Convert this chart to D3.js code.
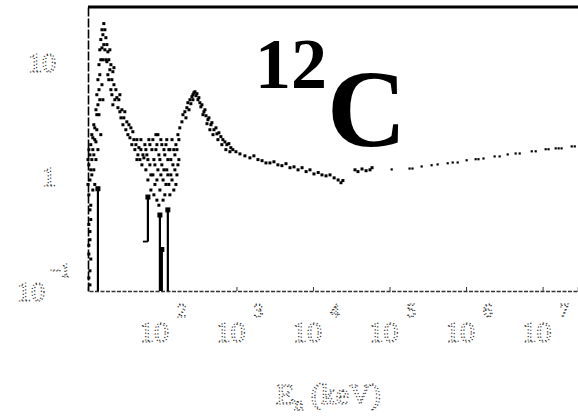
<!DOCTYPE html>
<html>
  <head>
    <style>
      body { margin: 0; background: #fff; }
      svg { display: block; }
    </style>
  </head>
  <body>
    <script src="https://d3js.org/d3.v7.min.js"></script>
    <script>
// energies in keV
const lowEnergy = [11.8, 11.8, 12.2, 11.8, 12.2, 11.8, 12.2, 11.8, 12.2, 12.2, 12.5, 12.9, 12.9, 13.3, 12.5, 12.9, 13.3, 13.7, 14.1,
  13.7, 14.1, 14.6, 14.6, 15.0, 15.0, 15.5, 15.5, 16.0, 16.0, 16.4, 16.4, 16.9, 16.9, 17.5, 17.5, 18.0, 18.5, 18.5, 19.1,
  19.7, 19.7, 20.3, 20.9, 20.9, 21.5, 22.2, 22.2, 22.9, 23.6, 23.6, 24.3, 25.1, 25.8, 26.6, 27.4, 28.3, 29.1, 30.0, 31.0,
  31.9, 32.9, 33.8, 35.9, 37.0, 38.2, 40.6, 41.8, 43.0, 45.7, 47.1, 48.6, 51.6, 53.2, 54.8, 56.5, 58.2, 60.0,
  11.5, 12.2, 11.5, 12.5, 12.5, 12.2, 11.8, 12.5, 11.8, 13.3, 13.7, 14.1, 14.6, 15.0, 15.5, 16.0, 16.4, 16.9, 17.5,
  18.0, 18.0, 19.1, 20.3, 21.5, 22.9, 24.3, 25.1, 30.0, 34.8, 39.4, 44.3, 50.1, 50.1, 56.5];
const lowSigma = [1.71, 1.26, 0.93, 0.69, 0.51, 0.38, 0.28, 0.21, 0.15, 0.113, 1.89, 1.40, 1.03, 0.76, 0.56, 2.31, 1.71, 1.14, 0.85,
  2.82, 2.09, 3.81, 1.40, 5.15, 2.55, 6.97, 1.71, 9.42, 3.45, 12.7, 4.66, 15.6, 2.31, 19.0, 6.30, 10.4, 21.5, 14.1, 19.0,
  16.2, 10.4, 14.1, 12.2, 7.70, 10.4, 12.7, 8.51, 9.42, 6.97, 5.15, 8.18, 6.30, 4.66, 5.70, 4.86, 3.97, 4.66, 3.66, 3.24,
  3.81, 2.82, 3.24, 2.55, 2.99, 2.31, 2.17, 2.65, 1.89, 2.09, 1.71, 1.89, 1.54, 1.78, 1.40, 1.71, 1.26, 1.54,
  1.40, 1.54, 0.85, 1.14, 0.42, 0.33, 0.25, 0.19, 0.13, 2.17, 1.54, 2.65, 2.00, 3.45, 4.21, 5.70, 7.70, 10.4, 13.2,
  17.2, 4.66, 12.7, 10.0, 6.97, 5.70, 4.21, 8.87, 5.15, 3.66, 2.82, 2.45, 2.09, 1.40, 2.09];

const midEnergy = [63.7, 65.6, 67.6, 69.7, 71.8, 74.0, 76.3, 78.6, 81.0, 83.5, 86.1, 88.7, 91.4, 91.4, 94.2, 97.0, 100, 103,
  106, 110, 113, 116, 120, 123, 127, 131, 135, 139, 144, 148, 152, 157, 162, 167, 172, 177,
  61.8, 65.6, 69.7, 74.0, 76.3, 81.0, 83.5, 86.1, 88.7, 91.4, 94.2, 97.0, 100, 103, 106, 110, 113, 116, 120, 123, 127,
  131, 135, 139, 144, 152, 157, 162, 167, 172, 177];
const midSigma = [1.89, 1.14, 1.54, 0.93, 2.09, 1.26, 0.76, 1.71, 1.03, 1.40, 0.85, 2.31, 1.89, 0.62, 1.14, 1.54, 0.76, 2.09,
  1.26, 0.93, 1.71, 0.69, 1.89, 1.14, 1.40, 0.85, 1.71, 1.03, 2.09, 1.26, 0.76, 1.54, 1.89, 1.03, 2.31, 1.40,
  1.45, 1.71, 1.40, 1.89, 1.03, 2.09, 0.69, 1.26, 1.71, 0.93, 2.31, 0.56, 1.40, 1.03, 1.89, 0.62, 1.14, 1.54, 0.85, 2.09, 1.03,
  1.71, 0.69, 1.40, 0.93, 1.71, 1.14, 0.85, 1.71, 1.26, 2.09];

const peakEnergy = [182, 194, 200, 212, 225, 232, 247, 254, 262, 270, 278, 287, 296, 305, 314, 323, 333, 343, 354, 376, 388,
  400, 424, 437, 464, 478, 509, 540, 556, 590, 626, 665, 707, 750, 796, 845, 897, 985, 1111, 1290, 1500, 1690, 1910,
  2160, 2430, 2740, 3090, 3480, 3930, 4440, 5010, 5650, 6380, 7200, 8130, 9140, 10300, 11700, 13100, 14800, 16700,
  18900, 21300, 23200, 24600, 35400, 38700, 43700, 49400, 55600, 59100,
  219, 240, 270, 365, 412, 450, 494, 573, 645, 728, 822];
const peakSigma = [2.65, 2.99, 3.45, 3.66, 3.97, 4.39, 4.66, 4.30, 4.95, 5.15, 5.36, 5.47, 5.05, 5.26, 4.66, 4.86, 4.39, 4.04,
  4.21, 3.66, 3.81, 3.38, 3.12, 3.24, 2.82, 2.94, 2.55, 2.65, 2.35, 2.40, 2.22, 2.09, 2.00, 1.89, 1.93, 1.78, 1.71, 1.64,
  1.57, 1.51, 1.45, 1.51, 1.40, 1.37, 1.31, 1.31, 1.34, 1.26, 1.24, 1.29, 1.19, 1.21, 1.14, 1.19, 1.10, 1.14, 1.05, 1.08,
  1.03, 1.01, 1.03, 0.97, 0.93, 0.88, 0.92, 1.14, 1.10, 1.16, 1.12, 1.14, 1.19,
  3.24, 3.81, 4.66, 3.45, 2.88, 2.55, 2.31, 2.09, 1.89, 1.71, 1.64];

const tailEnergy = [1.08e5, 1.85e5, 2.02e5, 2.66e5, 3.59e5, 4.30e5, 5.82e5, 6.77e5, 7.86e5, 1.03e6, 1.35e6, 1.47e6, 1.71e6,
  2.39e6, 2.78e6, 3.54e6, 4.50e6, 5.08e6, 7.30e6, 8.22e6, 1.11e7, 1.21e7, 1.50e7, 1.64e7, 1.79e7, 2.43e7, 2.66e7];
const tailSigma = [1.14, 1.16, 1.16, 1.21, 1.24, 1.26, 1.29, 1.31, 1.31, 1.37, 1.40, 1.40, 1.42, 1.48, 1.48, 1.54, 1.57, 1.57,
  1.64, 1.64, 1.71, 1.71, 1.74, 1.74, 1.74, 1.81, 1.81];

// points with big error bars
const errEnergy = [15.5, 69.7, 100, 106, 127];
const errTop = [0.78, 0.66, 0.46, 0.23, 0.51];
const errBottom = [0.1, 0.27, 0.1, 0.1, 0.1];

const xTicks = [1e2, 1e3, 1e4, 1e5, 1e6, 1e7];
const xExps = ['2', '3', '4', '5', '6', '7'];
const yTicks = [10, 1, 0.1];
const yBases = ['10', '1', '10'];
const yExps = ['', '', '\u22121'];

const WIDTH = 578
const HEIGHT = 416
const LEFT = 88
const TOP = 7
const BOTTOM = 291

const svg = d3.select('body').append('svg').attr('width', WIDTH).attr('height', HEIGHT);

const x = d3.scaleLog().domain([11.5, 2.9e7]).range([LEFT, WIDTH]);
const y = d3.scaleLog().domain([0.1, 30]).range([BOTTOM, TOP]).clamp(true);

// dotted "scanned" text look
function stipple(sel) {
  sel.attr('fill', 'none')
    .attr('stroke', '#222')
    .attr('stroke-width', 1.1)
    .attr('stroke-dasharray', '1.2 2.2')
    .attr('font-family', 'Liberation Serif, serif');
}

// frame
svg.append('line')
  .attr('x1', LEFT).attr('x2', WIDTH).attr('y1', TOP).attr('y2', TOP)
  .attr('stroke', '#000').attr('stroke-width', 3);

const xAxis = d3.axisBottom(x).tickValues(xTicks).tickSize(-4).tickFormat('');
const gx = svg.append('g').attr('transform', `translate(0,${BOTTOM})`).call(xAxis);
gx.select('.domain').attr('stroke', '#333').attr('stroke-width', 1.5).attr('stroke-dasharray', '4 1.5');
gx.selectAll('.tick line').attr('stroke', '#333');

const yAxis = d3.axisLeft(y).tickValues(yTicks).tickSize(0).tickFormat('');
const gy = svg.append('g').attr('transform', `translate(${LEFT},0)`).call(yAxis);
gy.select('.domain').attr('stroke', '#000').attr('stroke-width', 1.6).attr('stroke-dasharray', '9 2');

// x tick labels
const xl = svg.append('g');
xl.selectAll('text.base').data(xTicks).join('text')
  .attr('class', 'base')
  .attr('x', d => x(d) - 6).attr('y', BOTTOM + 51)
  .attr('text-anchor', 'middle').attr('font-size', 30)
  .text('10').call(stipple);
xl.selectAll('text.exp').data(xTicks).join('text')
  .attr('class', 'exp')
  .attr('x', d => x(d) + 17).attr('y', BOTTOM + 26)
  .attr('font-size', 19)
  .text((d, i) => xExps[i]).call(stipple);

// y tick labels
const yl = svg.append('g');
yl.selectAll('text.base').data(yTicks).join('text')
  .attr('class', 'base')
  .attr('x', (d, i) => i === 1 ? 49 : (i === 0 ? 42 : 31)).attr('y', d => y(d) + 10)
  .attr('text-anchor', 'middle').attr('font-size', 28)
  .text((d, i) => yBases[i]).call(stipple);
yl.selectAll('text.exp').data(yTicks).join('text')
  .attr('class', 'exp')
  .attr('x', 50).attr('y', d => y(d) - 14)
  .attr('font-size', 19)
  .text((d, i) => yExps[i]).call(stipple);

// axis title
const title = svg.append('text').attr('x', 276).attr('y', 404).attr('font-size', 30).call(stipple);
title.append('tspan').text('E');
title.append('tspan').attr('font-size', 18).attr('dy', 6).text('n');
title.append('tspan').attr('dy', -6).text(' (keV)');

// error bars
const bars = svg.append('g');
errEnergy.forEach((e, i) => {
  bars.append('line')
    .attr('x1', x(e)).attr('x2', x(e))
    .attr('y1', y(errTop[i])).attr('y2', y(errBottom[i]))
    .attr('stroke', '#000').attr('stroke-width', 2.2);
  bars.append('rect')
    .attr('x', x(e) - 2.5).attr('y', y(errTop[i]) - 2.5)
    .attr('width', 5).attr('height', 5).attr('fill', '#000');
  if (errBottom[i] > 0.1) {
    bars.append('line')
      .attr('x1', x(e) - 5).attr('x2', x(e))
      .attr('y1', y(errBottom[i])).attr('y2', y(errBottom[i]))
      .attr('stroke', '#000').attr('stroke-width', 1.8);
  }
});

// data points
const series = [[lowEnergy, lowSigma], [midEnergy, midSigma], [peakEnergy, peakSigma], [tailEnergy, tailSigma]];
series.forEach(([es, ss], k) => {
  const pts = es.map((e, i) => ({e: e, s: ss[i]}));
  svg.append('g').selectAll('rect').data(pts).join('rect')
    .attr('x', d => x(d.e) - 1.5).attr('y', d => y(d.s) - 1.5)
    .attr('width', k === 3 ? 2.2 : 3).attr('height', k === 3 ? 2.2 : 3)
    .attr('fill', '#000');
});

// nucleus label
svg.append('text').attr('x', 255).attr('y', 88)
  .attr('font-family', 'Liberation Serif, serif').attr('font-weight', 'bold')
  .attr('font-size', 72).attr('fill', '#000').text('12');
svg.append('text').attr('x', 327).attr('y', 146)
  .attr('font-family', 'Liberation Serif, serif').attr('font-weight', 'bold')
  .attr('font-size', 110).attr('fill', '#000').text('C');
    </script>
  </body>
</html>
